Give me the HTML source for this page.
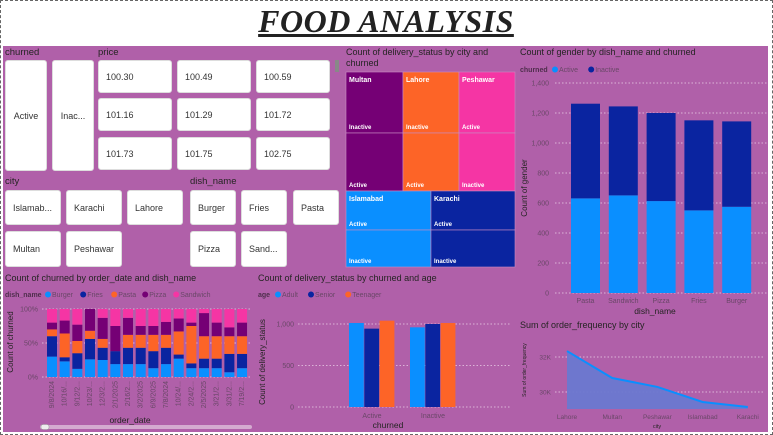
<!DOCTYPE html>
<html><head><meta charset="utf-8">
<style>
*{margin:0;padding:0;box-sizing:border-box}
body{width:773px;height:435px;overflow:hidden;background:#fff;font-family:"Liberation Sans",sans-serif;position:relative}
#frame{position:absolute;left:0;top:0;width:773px;height:435px;border:1px dashed #666}
#bg{position:absolute;left:3px;top:46px;width:765px;height:386px;background:#b060a9}
#title{position:absolute;left:240px;top:3px;width:292px;text-align:center;font-family:"Liberation Serif",serif;font-weight:bold;font-style:italic;font-size:32px;color:#222;text-decoration:underline;letter-spacing:0.5px}
.lbl{position:absolute;font-size:9.5px;color:#252423}
.btn{position:absolute;background:#fff;border-radius:3px;border:1px solid #ddd;font-size:9px;color:#333;display:flex;align-items:center;padding-left:7px}
.ctr{justify-content:center;padding-left:0}
svg{position:absolute;left:0;top:0}
</style></head><body>
<div id="frame"></div>
<div id="bg"></div>
<div id="title">FOOD ANALYSIS</div>

<div class="lbl" style="left:5px;top:47px">churned</div>
<div class="btn ctr" style="left:5px;top:60px;width:42px;height:111px">Active</div>
<div class="btn ctr" style="left:52px;top:60px;width:42px;height:111px">Inac...</div>

<div class="lbl" style="left:98px;top:47px">price</div>
<div class="btn" style="left:98px;top:60px;width:74px;height:33px">100.30</div>
<div class="btn" style="left:177px;top:60px;width:74px;height:33px">100.49</div>
<div class="btn" style="left:256px;top:60px;width:74px;height:33px">100.59</div>
<div class="btn" style="left:98px;top:98px;width:74px;height:33px">101.16</div>
<div class="btn" style="left:177px;top:98px;width:74px;height:33px">101.29</div>
<div class="btn" style="left:256px;top:98px;width:74px;height:33px">101.72</div>
<div class="btn" style="left:98px;top:137px;width:74px;height:33px">101.73</div>
<div class="btn" style="left:177px;top:137px;width:74px;height:33px">101.75</div>
<div class="btn" style="left:256px;top:137px;width:74px;height:33px">102.75</div>
<div style="position:absolute;left:335px;top:60px;width:4px;height:12px;background:#888"></div>

<div class="lbl" style="left:5px;top:176px">city</div>
<div class="btn" style="left:5px;top:190px;width:56px;height:35px">Islamab...</div>
<div class="btn" style="left:66px;top:190px;width:56px;height:35px">Karachi</div>
<div class="btn" style="left:127px;top:190px;width:56px;height:35px">Lahore</div>
<div class="btn" style="left:5px;top:231px;width:56px;height:36px">Multan</div>
<div class="btn" style="left:66px;top:231px;width:56px;height:36px">Peshawar</div>

<div class="lbl" style="left:190px;top:176px">dish_name</div>
<div class="btn" style="left:190px;top:190px;width:46px;height:35px">Burger</div>
<div class="btn" style="left:241px;top:190px;width:46px;height:35px">Fries</div>
<div class="btn" style="left:293px;top:190px;width:46px;height:35px">Pasta</div>
<div class="btn" style="left:190px;top:231px;width:46px;height:36px">Pizza</div>
<div class="btn" style="left:241px;top:231px;width:46px;height:36px">Sand...</div>

<svg id="s" width="773" height="435" xmlns="http://www.w3.org/2000/svg" font-family="Liberation Sans, sans-serif"></svg>

<script>
// ---------- data ----------
const stackDates=["9/8/2024","10/16/...","9/12/2...","10/23/...","12/3/2...","2/1/2025","2/16/2...","3/2/2025","6/9/2025","7/8/2024","10/24/...","2/24/2...","2/5/2025","3/21/2...","3/31/2...","7/19/2..."];
const stackDishes=["Burger","Fries","Pasta","Pizza","Sandwich"];
const shBurger=[30,23,12,26,25,19,19,19,13,19,27,13,13,13,7,13];
const shFries=[30,6,23,30,18,19,24,24,25,24,6,7,14,14,27,21];
const shPasta=[10,35,18,12,13,0,19,19,24,19,34,55,33,33,26,26];
const shPizza=[10,19,24,32,31,37,25,13,13,19,19,5,34,20,13,20];
const shSandwich=[20,17,23,0,13,25,13,25,25,19,14,20,6,20,27,20];
const stackTicks=["0%","50%","100%"];

const ageGroups=["Active","Inactive"];
const ageNames=["Adult","Senior","Teenager"];
const ageAdult=[1012,960];
const ageSenior=[944,1000];
const ageTeen=[1040,1012];
const ageTicks=[0,500,1000];

const genderDishes=["Pasta","Sandwich","Pizza","Fries","Burger"];
const genderActive=[631,651,613,551,575];
const genderInactive=[631,593,587,600,569];
const genderTicks=[0,200,400,600,800,1000,1200,1400];

const freqCities=["Lahore","Multan","Peshawar","Islamabad","Karachi"];
const freqValues=[32340,30800,30290,29430,29140];
const freqTicks=[30000,32000];

// ---------- helpers ----------
const s=document.getElementById('s');
const NS="http://www.w3.org/2000/svg";
const TK='#6a4768';
function el(tag,attrs,parent){const e=document.createElementNS(NS,tag);for(const k in attrs)e.setAttribute(k,attrs[k]);(parent||s).appendChild(e);return e;}
function txt(x,y,t,size,fill,anchor,extra){const e=el('text',Object.assign({x:x,y:y,'font-size':size,fill:fill,'text-anchor':anchor||'start'},extra||{}));e.textContent=t;return e;}
function grid(x1,x2,y){el('line',{x1:x1,x2:x2,y1:y,y2:y,stroke:'#dcb3d8','stroke-dasharray':'1.5,2','stroke-width':1});}
const C={burger:'#0a8fff',fries:'#0a24a0',pasta:'#fd6427',pizza:'#750075',sandwich:'#f535a4'};

// ---------- treemap ----------
let t=txt(346,55,"Count of delivery_status by city and",9,'#252423');

t=txt(346,66,"churned",9,'#252423');

const tmCells=[
 [346,72,57,61,C.pizza,"Multan","Inactive"],[346,133,57,58,C.pizza,"","Active"],
 [403,72,56,61,C.pasta,"Lahore","Inactive"],[403,133,56,58,C.pasta,"","Active"],
 [459,72,56,61,C.sandwich,"Peshawar","Active"],[459,133,56,58,C.sandwich,"","Inactive"],
 [346,191,85,39,C.burger,"Islamabad","Active"],[346,230,85,37,C.burger,"","Inactive"],
 [431,191,84,39,C.fries,"Karachi","Active"],[431,230,84,37,C.fries,"","Inactive"]];
tmCells.forEach(c=>{
 const r=el('rect',{x:c[0],y:c[1],width:c[2],height:c[3],fill:c[4],stroke:'#c88bc4','stroke-width':0.6});
 
 if(c[5]){const a=txt(c[0]+3,c[1]+10,c[5],7,'#fff','start',{'font-weight':'bold'});}
 const b=txt(c[0]+3,c[1]+c[3]-4,c[6],6,'#fff','start',{'font-weight':'bold'});
 
});

// ---------- stacked 100% chart ----------
t=txt(5,281,"Count of churned by order_date and dish_name",9,'#252423');

(function(){
 const cols=[C.burger,C.fries,C.pasta,C.pizza,C.sandwich];
 let lx=5;txt(lx,297,"dish_name",7,'#4e2e4c','start',{'font-weight':'bold'});lx+=40;
 stackDishes.forEach((d,i)=>{const c=el('circle',{cx:lx+3,cy:294.5,r:3,fill:cols[i]});
  const q=txt(lx+7,297,d,7,TK);lx+=d.length*4.2+10;});
 const y0=377,h=68,x0=47,step=12.67,bw=10;
 const Y=p=>y0-p/100*h;
 stackTicks.forEach((tk,i)=>{const v=i*50;grid(42,250,Y(v));txt(38,Y(v)+2.5,tk,7,TK,'end');});
 const series=[shBurger,shFries,shPasta,shPizza,shSandwich];
 stackDates.forEach((d,i)=>{
  let tot=0;series.forEach(a=>tot+=a[i]);
  let acc=0;const x=x0+i*step;
  series.forEach((a,k)=>{const v=a[i]/tot*100;
   const r=el('rect',{x:x,y:Y(acc+v),width:bw,height:v/100*h,fill:cols[k]});
   acc+=v;});
  const l=txt(x+bw/2+2,381,d,7,TK,'end',{transform:`rotate(-90 ${x+bw/2+2} 381)`});
  
 });
 t=txt(13,342,"Count of churned",8,'#252423','middle',{transform:'rotate(-90 13 342)'});
 
 t=txt(130,423,"order_date",8.5,'#252423','middle');
 
 const sb=el('rect',{x:40,y:425,width:212,height:4,rx:2,fill:'#d4aad0'});
 el('rect',{x:41,y:424.5,width:8,height:5,rx:2,fill:'#eee',stroke:'#999','stroke-width':0.5});
})();

// ---------- clustered chart ----------
t=txt(258,281,"Count of delivery_status by churned and age",9,'#252423');

(function(){
 const cols=[C.burger,C.fries,C.pasta];
 let lx=258;txt(lx,297,"age",7,'#4e2e4c','start',{'font-weight':'bold'});lx+=17;
 ageNames.forEach((d,i)=>{const c=el('circle',{cx:lx+3,cy:294.5,r:3,fill:cols[i]});
  const q=txt(lx+7,297,d,7,TK);lx+=d.length*4.2+12;});
 const y0=407,k=0.083;const Y=v=>y0-v*k;
 ageTicks.forEach(v=>{grid(298,510,Y(v));txt(294,Y(v)+2.5,v.toLocaleString('en-US'),7,TK,'end');});
 const series=[ageAdult,ageSenior,ageTeen];const gx=[349,410],bw=15.3;
 ageGroups.forEach((g,i)=>{
  series.forEach((a,j)=>{const r=el('rect',{x:gx[i]+j*bw,y:Y(a[i]),width:bw-0.5,height:a[i]*k,fill:cols[j]});
   });
  const l=txt(gx[i]+bw*1.5,418,g,7,TK,'middle');
 });
 t=txt(265,362,"Count of delivery_status",8,'#252423','middle',{transform:'rotate(-90 265 362)'});
 
 t=txt(388,428,"churned",8.5,'#252423','middle');
 
})();

// ---------- gender stacked column ----------
t=txt(520,55,"Count of gender by dish_name and churned",9,'#252423');

(function(){
 let lx=520;txt(lx,72,"churned",7,'#4e2e4c','start',{'font-weight':'bold'});lx+=32;
 [["Active",C.burger],["Inactive",C.fries]].forEach(d=>{const c=el('circle',{cx:lx+3,cy:69.5,r:3,fill:d[1]});
  const q=txt(lx+7,72,d[0],7,TK);lx+=d[0].length*4.2+11;});
 const y0=293,k=0.15;const Y=v=>y0-v*k;
 genderTicks.forEach(v=>{grid(555,768,Y(v));txt(549,Y(v)+2.5,v.toLocaleString('en-US'),7,TK,'end');});
 const x0=571,step=37.8,bw=29;
 genderDishes.forEach((d,i)=>{const x=x0+i*step;
  let r=el('rect',{x:x,y:Y(genderActive[i]),width:bw,height:genderActive[i]*k,fill:C.burger});
  r=el('rect',{x:x,y:Y(genderActive[i]+genderInactive[i]),width:bw,height:genderInactive[i]*k,fill:C.fries});
  const l=txt(x+bw/2,303,d,7,TK,'middle');});
 t=txt(527,188,"Count of gender",8,'#252423','middle',{transform:'rotate(-90 527 188)'});
 
 t=txt(655,314,"dish_name",8.5,'#252423','middle');
 
})();

// ---------- area chart ----------
t=txt(520,328,"Sum of order_frequency by city",9,'#252423');

(function(){
 const Y=v=>392-(v-30000)*0.0175;const yb=Y(29030);
 const x0=567,step=45.2;const X=i=>x0+i*step;
 freqTicks.forEach(v=>{grid(555,765,Y(v));txt(551,Y(v)+2.5,(v/1000)+"K",6.5,TK,'end');});
 let d=`M${X(0)},${yb}`;freqValues.forEach((v,i)=>d+=` L${X(i)},${Y(v)}`);d+=` L${X(freqValues.length-1)},${yb} Z`;
 let a=el('path',{d:d,fill:'#6a78d0','fill-opacity':0.95});
 let ld='';freqValues.forEach((v,i)=>ld+=(i?' L':'M')+X(i)+','+Y(v));
 a=el('path',{d:ld,fill:'none',stroke:'#0a8fff','stroke-width':2});
 freqCities.forEach((c,i)=>{const l=txt(X(i),419,c,6.5,TK,'middle');});
 t=txt(526,370,"Sum of order_frequency",5,'#252423','middle',{transform:'rotate(-90 526 370)'});
 
 t=txt(657,428,"city",5.5,'#252423','middle');
 
})();
</script>
</body></html>
